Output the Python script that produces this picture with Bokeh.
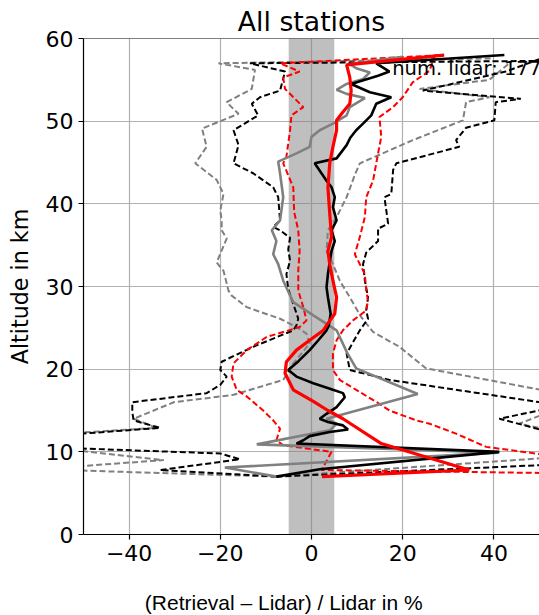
from bokeh.plotting import figure
from bokeh.layouts import column
from bokeh.models import Range1d, FixedTicker, CustomJSTickFormatter, Span, Label
from bokeh.core.properties import value
from bokeh.embed import file_html
from bokeh.resources import INLINE

TITLE = "All stations"
X_LABEL = "(Retrieval \u2013 Lidar) / Lidar in %"
Y_LABEL = "Altitude in km"
NOTE = "num. lidar: 177"
X_TICKS = [-40, -20, 0, 20, 40]
Y_TICKS = [0, 10, 20, 30, 40, 50, 60]
BAND = [-5, 5]

# black solid
bs_alt = [7.0, 7.9, 10.0, 11.0, 11.4, 11.9, 12.4, 12.7, 13.2, 13.6, 14.0, 14.6, 15.4, 16.6, 17.1, 17.5, 18.3, 19.1,
          19.9, 21.0, 22.3, 23.5, 24.7, 25.3, 26.7, 28.7, 29.9, 31.5, 33.0, 34.3, 35.5, 36.8, 38.0, 39.6, 40.8, 42.0,
          42.8, 44.9, 45.5, 47.1, 48.0, 48.9, 49.7, 50.7, 52.1, 52.9, 53.5, 54.5, 55.5, 56.0, 57.0, 58.0]
bs_val = [-7.7, 1.8, 41.2, -3.3, -1.8, -0.4, 4.0, 8.0, 6.9, 3.6, 1.8, 3.3, 5.5, 7.3, 6.9, 4.7, 0.4, -3.3,
          -5.1, -2.8, -0.4, 1.5, 3.3, 3.8, 4.2, 3.6, 3.3, 3.6, 4.0, 4.4, 5.1, 4.4, 5.5, 4.7, 5.1, 4.4,
          3.3, 0.7, 5.5, 7.7, 8.5, 9.8, 11.3, 13.1, 14.2, 17.5, 12.8, 8.7, 14.6, 17.1, 14.2, 42.3]

# gray solid
gs_alt = [7.0, 8.1, 9.9, 10.9, 12.6, 13.4, 14.0, 17.0, 20.1, 22.0, 24.7, 26.5, 28.1, 30.7, 32.7, 33.9, 35.5, 36.8,
          38.0, 40.8, 43.7, 45.1, 46.1, 46.9, 48.1, 48.9, 49.7, 50.7, 51.7, 52.8, 53.3, 53.8, 54.5, 55.1, 55.9,
          56.4, 56.9, 57.8]
gs_val = [-7.7, -19.0, 41.0, -12.0, 4.0, 5.5, 3.3, 23.3, 9.8, 7.8, 5.5, 0.4, -4.0, -6.2, -7.3, -8.4, -7.7, -8.7,
          -6.9, -6.2, -6.9, -7.3, -3.3, -0.4, 0.0, 1.8, 4.7, 7.7, 8.4, 11.7, 7.7, 5.5, 7.7, 11.3, 12.8,
          9.8, 8.4, 20.0]

# red solid
rs_alt = [7.0, 7.8, 11.0, 14.0, 15.0, 16.1, 17.5, 19.5, 20.9, 22.3, 23.5, 24.7, 25.3, 26.7, 28.7, 30.7, 32.7, 34.3,
          36.0, 38.8, 42.0, 44.9, 46.9, 48.9, 50.1, 51.1, 52.1, 53.7, 55.3, 56.8, 58.0]
rs_val = [2.3, 34.6, 15.3, 6.9, 3.6, 0.4, -4.0, -5.8, -5.5, -3.3, -0.4, 2.6, 3.3, 5.1, 5.5, 4.7, 4.0, 3.6,
          4.4, 4.0, 3.6, 4.0, 4.7, 5.5, 5.5, 6.9, 8.4, 8.7, 8.4, 7.7, 29.1]

# black dashed, low side
bdl_alt = [7.0, 7.8, 9.1, 9.8, 10.4, 11.0, 11.8, 12.2, 12.9, 13.8, 14.8, 16.0, 17.1, 18.1, 19.1, 19.9, 20.9, 22.7,
           24.7, 25.3, 26.1, 27.9, 29.7, 31.5, 33.1, 34.5, 35.9, 36.8, 37.2, 38.0, 40.8, 42.0, 43.7, 44.9, 47.1,
           48.9, 50.7, 52.1, 52.9, 53.7, 56.0, 57.0, 57.3]
bdl_val = [-7.7, -33.2, -15.7, -20.0, -50.3, -65.0, -65.0, -50.3, -33.2, -39.0, -39.3, -39.3, -23.0, -20.0, -18.6,
           -20.0, -19.7, -12.8, -4.0, -3.3, -2.9, -4.0, -5.1, -5.5, -4.7, -5.1, -4.7, -6.9, -8.4, -6.9, -7.3, -8.4,
           -12.8, -17.1, -16.0, -17.1, -11.7, -13.1, -11.3, -6.9, -5.8, -13.5, 52.0]

# black dashed, high side
bdr_alt = [7.0, 8.5, 10.0, 12.0, 14.0, 15.6, 18.7, 19.9, 21.9, 24.7, 26.1, 27.1, 28.7, 30.7, 32.7, 34.1, 35.5, 37.0,
           37.6, 39.2, 40.8, 41.2, 44.1, 44.9, 46.9, 47.7, 49.2, 50.1, 52.3, 52.7, 53.7, 56.0, 57.5]
bdr_val = [-7.7, 55.0, 70.0, 55.0, 41.2, 55.0, 17.1, 8.4, 7.7, 10.6, 12.4, 12.0, 12.4, 11.7, 11.3, 12.0, 14.6, 14.6,
           16.8, 16.4, 16.0, 17.5, 17.9, 18.6, 32.4, 31.7, 33.9, 40.1, 40.4, 45.9, 24.4, 42.6, 50.0]

# gray dashed, low side
gdl_alt = [7.0, 7.9, 9.0, 10.7, 12.0, 12.9, 14.0, 16.0, 16.9, 18.7, 20.7, 23.1, 24.3, 25.1, 26.1, 27.5, 28.9, 29.5,
           31.9, 32.9, 35.8, 36.8, 38.0, 39.2, 41.2, 42.9, 44.9, 46.9, 49.1, 50.9, 51.3, 52.3, 53.9, 56.2, 57.0, 57.6]
gdl_val = [-7.7, -60.0, -32.4, -60.0, -60.0, -34.0, -39.0, -30.2, -17.1, -6.2, -4.0, -0.4, -1.1, -3.3, -6.9, -14.2,
           -17.5, -18.2, -19.3, -20.8, -18.6, -19.7, -19.7, -20.0, -19.3, -20.8, -25.5, -23.0, -24.0, -16.0, -16.8,
           -18.6, -13.1, -12.4, -20.4, 40.0]

# gray dashed, high side
gdr_alt = [7.0, 9.4, 11.0, 12.3, 13.4, 16.5, 20.1, 22.7, 24.5, 26.3, 28.7, 30.7, 32.7, 34.3, 36.8, 38.4, 40.8, 43.5,
           44.9, 47.7, 50.1, 52.3, 52.9, 53.9, 55.0, 57.3]
gdr_val = [-7.7, 55.0, 70.0, 55.0, 45.5, 60.0, 25.1, 19.3, 13.5, 10.9, 8.4, 6.2, 4.7, 3.3, 3.6, 5.5, 7.7, 9.5,
           10.6, 22.2, 33.2, 33.9, 39.0, 23.7, 39.0, 44.0]

# red dashed, low side
rdl_alt = [7.3, 7.8, 8.6, 10.0, 10.8, 11.4, 12.8, 13.8, 15.0, 16.7, 17.5, 19.1, 20.7, 22.3, 23.9, 25.1, 25.9, 27.5,
           29.5, 31.9, 34.3, 36.8, 39.0, 42.0, 44.9, 45.7, 48.9, 50.7, 51.7, 53.9, 55.3, 56.0, 57.0, 58.0]
rdl_val = [70.0, 2.2, 3.0, 4.4, -6.2, -7.7, -6.9, -8.4, -10.6, -14.2, -16.4, -17.5, -17.1, -14.2, -9.8, -2.6, -1.1,
           -1.8, -2.9, -2.9, -2.6, -2.9, -3.8, -4.0, -6.2, -5.5, -4.7, -4.4, -1.8, -5.8, -6.2, -2.6, -6.9, 29.0]

# red dashed, high side
rdr_alt = [7.0, 9.0, 10.6, 12.2, 13.4, 13.8, 15.0, 15.8, 17.5, 18.7, 19.9, 21.9, 23.5, 24.7, 25.9, 27.1, 28.3, 29.5,
           31.5, 33.9, 36.0, 38.4, 40.8, 42.8, 46.1, 48.1, 50.5, 51.7, 52.9, 54.7, 56.1, 58.0]
rdr_val = [70.0, 60.0, 38.3, 31.7, 25.9, 23.0, 17.1, 14.9, 9.8, 6.2, 4.7, 4.7, 5.5, 6.9, 9.1, 12.0, 12.4, 12.0,
           11.7, 9.5, 10.6, 11.7, 12.0, 13.5, 14.6, 15.3, 14.9, 17.9, 20.0, 22.2, 25.9, 27.0]

FONT = "DejaVu Sans"

p = figure(width=539, height=575, output_backend="svg", toolbar_location=None,
           x_range=Range1d(-50, 50), y_range=Range1d(0, 60),
           min_border_left=83, min_border_right=0, min_border_top=38, min_border_bottom=41)
p.outline_line_color = None
p.background_fill_color = "white"
p.border_fill_color = "white"

p.title.text = TITLE
p.title.text_font = FONT
p.title.text_font_size = "26.7px"
p.title.text_font_style = "normal"
p.title.align = "center"
p.title.standoff = 4
p.title.text_color = "black"

for ax in (p.xaxis[0], p.yaxis[0]):
    ax.major_label_text_font = FONT
    ax.major_label_text_font_size = "22px"
    ax.major_label_text_color = "black"
    ax.axis_line_color = "black"
    ax.axis_line_width = 1.2
    ax.major_tick_line_color = "black"
    ax.major_tick_line_width = 1.2
    ax.major_tick_out = 5
    ax.major_tick_in = 0
    ax.minor_tick_out = 0
    ax.minor_tick_in = 0
    ax.major_label_standoff = 5

p.xaxis.ticker = FixedTicker(ticks=X_TICKS)
p.yaxis.ticker = FixedTicker(ticks=Y_TICKS)
p.xaxis.formatter = CustomJSTickFormatter(code="return tick < 0 ? '\\u2212' + Math.abs(tick) : String(tick);")

p.yaxis.axis_label = Y_LABEL
p.yaxis.axis_label_text_font = FONT
p.yaxis.axis_label_text_font_size = "22.2px"
p.yaxis.axis_label_text_font_style = "normal"
p.yaxis.axis_label_text_color = "black"
p.yaxis.axis_label_standoff = 10

p.grid.grid_line_color = "#b0b0b0"
p.grid.grid_line_width = 1.2

p.quad(left=BAND[0], right=BAND[1], bottom=Y_TICKS[0], top=Y_TICKS[-1],
       fill_color="gray", fill_alpha=0.5, line_color=None)

dash = "6 3"
p.line(gdl_val, gdl_alt, line_color="gray", line_width=2, line_dash=dash)
p.line(gdr_val, gdr_alt, line_color="gray", line_width=2, line_dash=dash)
p.line(bdl_val, bdl_alt, line_color="black", line_width=2, line_dash=dash)
p.line(bdr_val, bdr_alt, line_color="black", line_width=2, line_dash=dash)
p.line(rdl_val, rdl_alt, line_color="red", line_width=2, line_dash=dash)
p.line(rdr_val, rdr_alt, line_color="red", line_width=2, line_dash=dash)
p.line(gs_val, gs_alt, line_color="gray", line_width=2.6)
p.line(bs_val, bs_alt, line_color="black", line_width=2.6)
p.line(rs_val, rs_alt, line_color="red", line_width=3.2)

p.add_layout(Span(location=Y_TICKS[-1], dimension="width", line_color="black", line_width=1.2))
p.add_layout(Label(x=17.7, y=56.4, text=NOTE, text_font=FONT, text_font_size="19.5px",
                   text_color="black", text_baseline="alphabetic"))

# strip below the axes carrying the x caption (a figure text in the original, left of the axes centre)
cap = figure(width=539, height=40, output_backend="svg", toolbar_location=None,
             x_range=Range1d(-50, 50), y_range=Range1d(0, 1),
             x_axis_location=None, y_axis_location=None,
             min_border_left=83, min_border_right=0, min_border_top=0, min_border_bottom=0)
cap.outline_line_color = None
cap.grid.visible = False
cap.background_fill_color = "white"
cap.border_fill_color = "white"
cap.text(x=[-6.1], y=[0.32], text=[X_LABEL], text_font=value("Liberation Sans"),
         text_font_size=value("21px"), text_color="black", text_align="center",
         text_baseline="middle")

layout = column(p, cap, spacing=0)
open("out.html", "w").write(file_html(layout, INLINE))
